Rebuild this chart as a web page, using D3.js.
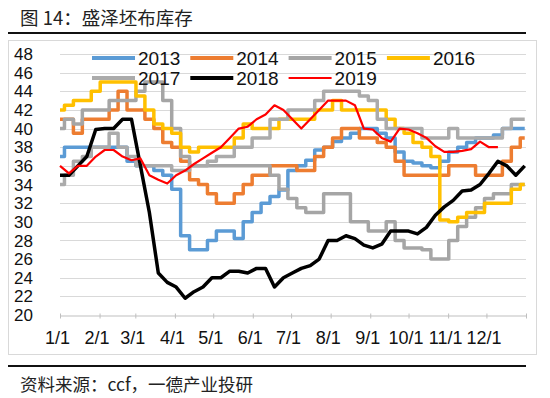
<!DOCTYPE html>
<html>
<head>
<meta charset="utf-8">
<script src="https://cdn.jsdelivr.net/npm/d3@7"></script>
<style>
  body { margin: 0; background: #fff; }
  svg { display: block; font-family: "Liberation Sans", Arial, sans-serif; }
</style>
</head>
<body>
<div id="chart"></div>
<script>
// weekly readings, week 0 = 1/1
const years = ["2013", "2014", "2015", "2016", "2017", "2018", "2019"];
const colors = ["#5B9BD5", "#ED7D31", "#A5A5A5", "#FFC000", "#ABABAB", "#000000", "#FF0000"];

const s2013 = [37,38,38,38,38,38,38,38,36.5,36,36,35.5,35,33.5,28.5,27,27,28,29,29,28.2,30,31,32,32.7,33.4,35.5,
               36,36.6,37.7,38,38.6,39,39.5,40,40,39.5,39,37.5,36.5,36.3,36,35.8,36.5,37.5,38,38.5,39,39,39.3,40,40,40];
const s2014 = [41,41,39.5,41,41,41,42,44,42,42,41,40,38.5,38,36.5,34.5,34,33,32,32,33,34,35,35,36,36,36,
               35.5,35.5,37,38,39,40,40,39,39,38.5,38,36.5,35,35,35,35,35,36,36,36,35,35,35,36.5,38,39];
const s2015 = [40,41,40.5,42,42,42,43,43,43,44,45,45,43,40,37,36,36,36,36,36,36,36,36,36,35,33.5,32.5,
               31.5,31,31,33,33,33,30,30,29,29,30,28,27.2,27.2,27,26,26,28,29.5,30.5,31.5,32.5,33,33,34,34];
const s2016 = [42,42.5,43,43,44,45,45,45,45,43.5,42,40.5,40,39.5,38,37.5,38,38,38,38,39,40.5,40,40,40,41,41,
               41,41,42,42,43,42,42,42,42,42,41,40,39.5,38.5,38,37,30.2,30,30.5,31,31,32,32,32,33.5,34];
const s2017 = [34,35,36.5,37,38,38,39.5,38,37,36,36,36,36,35.5,35.5,36,36,36.5,37,37,38,38,39,39,41,41,42,
               42,42,43,44,44,44,44,43.5,43,41,40,40,40,40,39,39,39,40,39,39,39,39,39,40,41,41];
const s2018 = [35,35,36,37,39.9,40,40,41,41,36,31,24.5,23.5,23,21.8,22.5,23,24,24,24.7,24.7,24.5,25,25,23,24,24.5,
               25,25.3,26,28,28,28.5,28.2,27.5,27.2,27.6,29,29,29,28.7,29.4,30.7,31.6,32.3,33.3,33.4,34,35.2,36.5,36,35,36];
const s2019 = [36,35.2,36,36,37,37.7,37.7,37,36.6,36.8,35,34.5,34.1,35,35.5,36.2,36.8,37.4,38,39,40,40.2,41,41.5,42.5,42,41,
               40,41,42,43,43,43,42.5,40,39.9,39,38.6,40,39.9,39.5,39,38.1,37.5,37.5,37.6,37.8,38.6,38,38,null,null,null];

const series = [s2013, s2014, s2015, s2016, s2017, s2018, s2019];
const stepped = [true, true, true, true, true, false, false];

const monthLabels = ["1/1","2/1","3/1","4/1","5/1","6/1","7/1","8/1","9/1","10/1","11/1","12/1"];
const yTicks = [20,22,24,26,28,30,32,34,36,38,40,42,44,46,48];

const W = 550, H = 398;
const start = new Date(2019, 0, 1), end = new Date(2020, 0, 1);
const weekDates = series[0].map((_, i) => d3.timeDay.offset(start, 7 * i));

const svg = d3.select("#chart").append("svg")
  .attr("width", W).attr("height", H);

// title + rules
svg.append("text")
  .attr("x", 20).attr("y", 25)
  .style("font-family", '"Noto Sans CJK SC", sans-serif')
  .style("font-size", "18.5px").attr("fill", "#222")
  .text("图 14：盛泽坯布库存");
svg.append("line").attr("x1", 8).attr("x2", 526).attr("y1", 33).attr("y2", 33)
  .attr("stroke", "#111").attr("stroke-width", 2);

// chart frame
svg.append("rect").attr("x", 8.5).attr("y", 40.5).attr("width", 528).attr("height", 314)
  .attr("fill", "#fff").attr("stroke", "#d9d9d9");

const x = d3.scaleTime().domain([start, end]).range([60, 526]);
const y = d3.scaleLinear().domain([20, 48]).range([315, 54]);

// gridlines
svg.append("g").selectAll("line")
  .data(yTicks.filter(d => d > 20))
  .join("line")
    .attr("x1", 60).attr("x2", 526)
    .attr("y1", d => Math.round(y(d)) + 0.5).attr("y2", d => Math.round(y(d)) + 0.5)
    .attr("stroke", "#d9d9d9");

// y labels
svg.append("g").selectAll("text")
  .data(yTicks)
  .join("text")
    .attr("x", 33).attr("y", d => y(d))
    .attr("dy", "0.36em")
    .attr("text-anchor", "end")
    .style("font-size", "17px").attr("fill", "#111")
    .text(d => d);

// x axis
const monthTicks = d3.timeMonth.range(start, end).concat([end]);
const xAxis = svg.append("g")
  .attr("transform", "translate(0,315.5)")
  .call(d3.axisBottom(x).tickValues(monthTicks).tickSizeOuter(0)
    .tickFormat((d, i) => monthLabels[i] || ""));
xAxis.select(".domain").attr("stroke", "#bfbfbf");
xAxis.selectAll(".tick line").attr("stroke", "#bfbfbf").attr("y1", -2).attr("y2", 3);
xAxis.selectAll(".tick text")
  .attr("y", 28).attr("dy", 0).attr("dx", -3)
  .style("font-size", "18px").style("font-family", '"Liberation Sans", Arial, sans-serif')
  .attr("fill", "#111");

// series lines
series.forEach((vals, k) => {
  const line = d3.line()
    .defined(d => d[1] != null)
    .x(d => x(d[0]))
    .y(d => y(d[1]))
    .curve(stepped[k] ? d3.curveStep : d3.curveLinear);
  svg.append("path")
    .datum(vals.map((v, i) => [weekDates[i], v]))
    .attr("fill", "none")
    .attr("stroke", colors[k])
    .attr("stroke-width", k === 6 ? 2.2 : 3.5)
    .attr("stroke-linejoin", "round")
    .attr("d", line);
});

// legend
const legend = svg.append("g");
years.forEach((name, k) => {
  const col = k < 4 ? k : k - 4;
  const row = k < 4 ? 0 : 1;
  const lx = 92 + col * 98.3, ly = 58 + row * 20;
  legend.append("line")
    .attr("x1", lx).attr("x2", lx + 43).attr("y1", ly).attr("y2", ly)
    .attr("stroke", colors[k]).attr("stroke-width", k === 6 ? 2.2 : 4);
  legend.append("text")
    .attr("x", lx + 46).attr("y", ly).attr("dy", "0.36em")
    .style("font-size", "19px").attr("fill", "#111")
    .text(name);
});

// source
svg.append("line").attr("x1", 8).attr("x2", 526).attr("y1", 366).attr("y2", 366)
  .attr("stroke", "#111").attr("stroke-width", 2);
svg.append("text")
  .attr("x", 20).attr("y", 391)
  .style("font-family", '"Noto Sans CJK SC", sans-serif')
  .style("font-size", "17.5px").attr("fill", "#222")
  .text("资料来源：ccf，一德产业投研");
</script>
</body>
</html>
